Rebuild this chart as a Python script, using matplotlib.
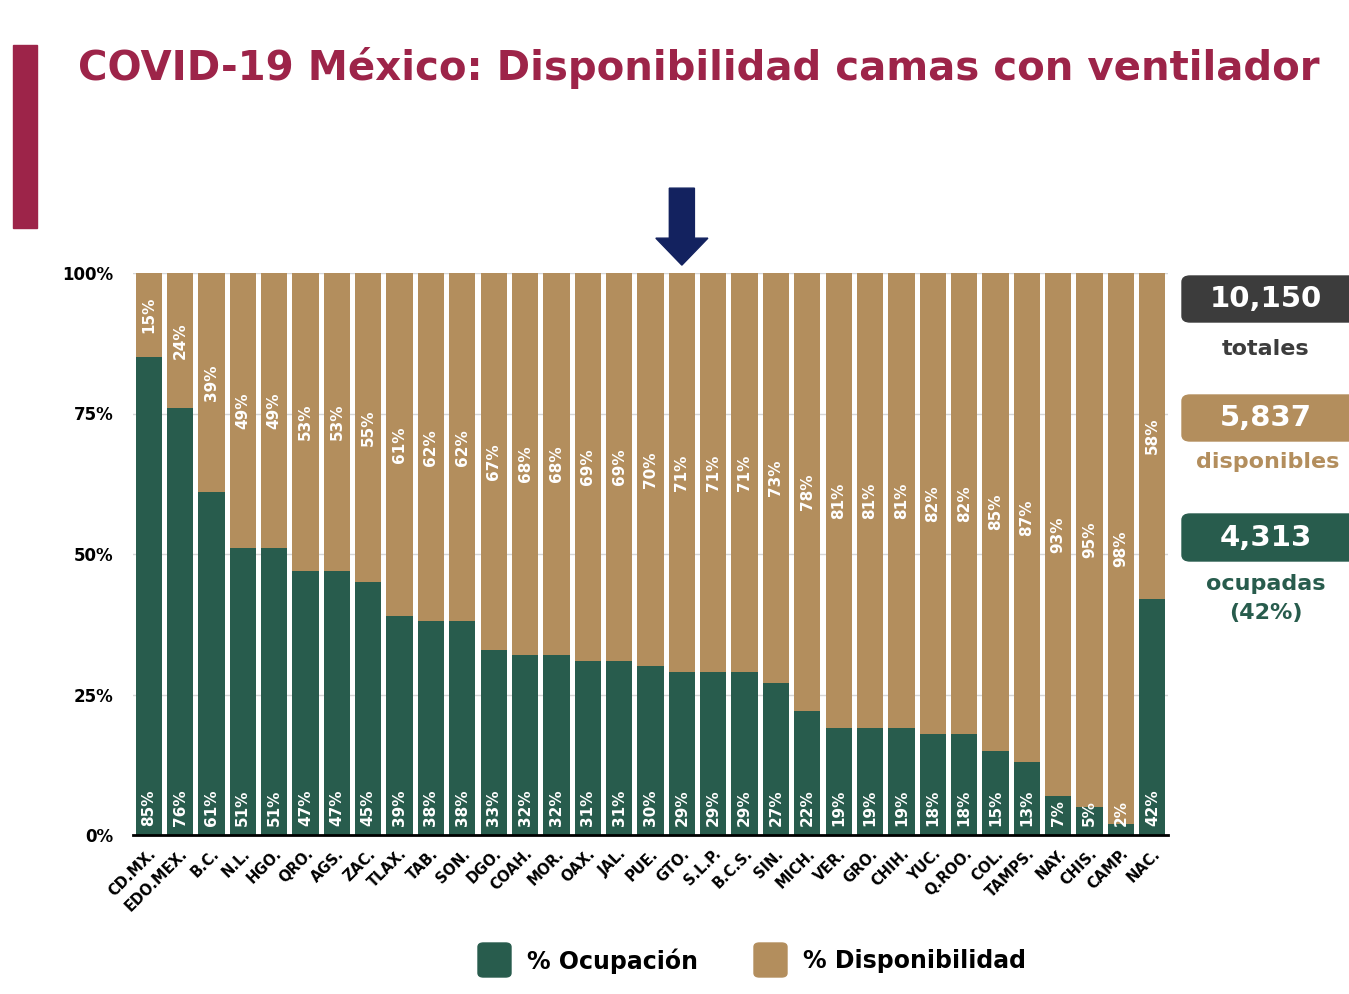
import numpy as np
import matplotlib.pyplot as plt
from matplotlib.patches import Rectangle, FancyBboxPatch, FancyArrow
from matplotlib.transforms import blended_transform_factory

estados = ['CD.MX.', 'EDO.MEX.', 'B.C.', 'N.L.', 'HGO.', 'QRO.', 'AGS.', 'ZAC.', 'TLAX.',
           'TAB.', 'SON.', 'DGO.', 'COAH.', 'MOR.', 'OAX.', 'JAL.', 'PUE.', 'GTO.',
           'S.L.P.', 'B.C.S.', 'SIN.', 'MICH.', 'VER.', 'GRO.', 'CHIH.', 'YUC.', 'Q.ROO.',
           'COL.', 'TAMPS.', 'NAY.', 'CHIS.', 'CAMP.', 'NAC.']
ocupacion = [85, 76, 61, 51, 51, 47, 47, 45, 39, 38, 38, 33, 32, 32, 31, 31, 30, 29,
             29, 29, 27, 22, 19, 19, 19, 18, 18, 15, 13, 7, 5, 2, 42]
disponibilidad = [15, 24, 39, 49, 49, 53, 53, 55, 61, 62, 62, 67, 68, 68, 69, 69, 70, 71,
                  71, 71, 73, 78, 81, 81, 81, 82, 82, 85, 87, 93, 95, 98, 58]
y_ticks = [0, 25, 50, 75, 100]
totales = ['10,150', '5,837', '4,313']

verde = '#285C4D'
dorado = '#B38E5D'
guinda = '#9D2449'
gris = '#3C3C3C'

fig = plt.figure(figsize=(13.49, 9.94), dpi=100)
fig.patch.set_facecolor('white')

# barra guinda y titulo
fig.patches.append(Rectangle((13 / 1349, 1 - 228 / 994), 24 / 1349, 183 / 994,
                             transform=fig.transFigure, color=guinda))
fig.text(78 / 1349, 1 - 68 / 994, 'COVID-19 México: Disponibilidad camas con ventilador',
         color=guinda, fontsize=29, fontweight='bold', va='center', ha='left')

ax = fig.add_axes([133 / 1349, 1 - 835 / 994, 1035 / 1349, 562 / 994])
x = np.arange(len(estados))
ax.bar(x, ocupacion, width=0.84, color=verde, zorder=2)
ax.bar(x, disponibilidad, bottom=ocupacion, width=0.84, color=dorado, zorder=2)

for i in range(len(estados)):
    ax.text(x[i], 1.6, f'{ocupacion[i]}%', rotation=90, ha='center', va='bottom',
            color='white', fontsize=11, fontweight='bold', zorder=3)
    ax.text(x[i], ocupacion[i] + disponibilidad[i] / 2, f'{disponibilidad[i]}%', rotation=90,
            ha='center', va='center', color='white', fontsize=11, fontweight='bold', zorder=3)

ax.set_xlim(-0.5, len(estados) - 0.5)
ax.set_ylim(0, 100)
ax.set_yticks(y_ticks)
ax.set_yticklabels([f'{t}%' for t in y_ticks], fontweight='bold', fontsize=12)
ax.set_xticks(x)
ax.set_xticklabels(estados, rotation=45, ha='right', rotation_mode='anchor',
                   fontweight='bold', fontsize=10.5)
ax.tick_params(length=0, pad=8)
ax.tick_params(axis='y', pad=14)
ax.yaxis.grid(True, color='#d6d6d6', linewidth=1, zorder=0)
ax.set_axisbelow(True)
for s in ['top', 'right', 'left']:
    ax.spines[s].set_visible(False)
ax.spines['bottom'].set_linewidth(2)
ax.spines['bottom'].set_zorder(4)
ax.set_facecolor('none')

# flecha sobre GTO.
tr = blended_transform_factory(ax.transData, ax.transAxes)
flecha = FancyArrow(estados.index('GTO.'), 1.151, 0, -0.137, width=0.8, head_width=1.66,
                    head_length=0.048, length_includes_head=True, color='#13225F',
                    transform=tr, clip_on=False)
ax.add_patch(flecha)

# cuadros de totales
cajas = [(276, 322, gris), (395, 441, dorado), (514, 561, verde)]
for (y0, y1, c), t in zip(cajas, totales):
    fig.patches.append(FancyBboxPatch((1182 / 1349, 1 - y1 / 994), 180 / 1349, (y1 - y0) / 994,
                                      boxstyle='round,pad=0,rounding_size=0.006',
                                      transform=fig.transFigure, color=c))
    fig.text(1266 / 1349, 1 - (y0 + y1) / 2 / 994, t, color='white', fontsize=21,
             fontweight='bold', ha='center', va='center')
fig.text(1266 / 1349, 1 - 349 / 994, 'totales', color=gris, fontsize=16,
         fontweight='bold', ha='center', va='center')
fig.text(1268 / 1349, 1 - 462 / 994, 'disponibles', color=dorado, fontsize=16,
         fontweight='bold', ha='center', va='center')
fig.text(1266 / 1349, 1 - 584 / 994, 'ocupadas', color=verde, fontsize=16,
         fontweight='bold', ha='center', va='center')
fig.text(1266 / 1349, 1 - 613 / 994, '(42%)', color=verde, fontsize=16,
         fontweight='bold', ha='center', va='center')

# leyenda
for x0, c, lab in [(478, verde, '% Ocupación'), (754, dorado, '% Disponibilidad')]:
    fig.patches.append(FancyBboxPatch((x0 / 1349, 1 - 977 / 994), 33 / 1349, 34 / 994,
                                      boxstyle='round,pad=0,rounding_size=0.004',
                                      transform=fig.transFigure, color=c))
    fig.text((x0 + 49) / 1349, 1 - 961 / 994, lab, fontsize=17, fontweight='bold',
             ha='left', va='center')

fig.savefig('out.png', dpi=100)
